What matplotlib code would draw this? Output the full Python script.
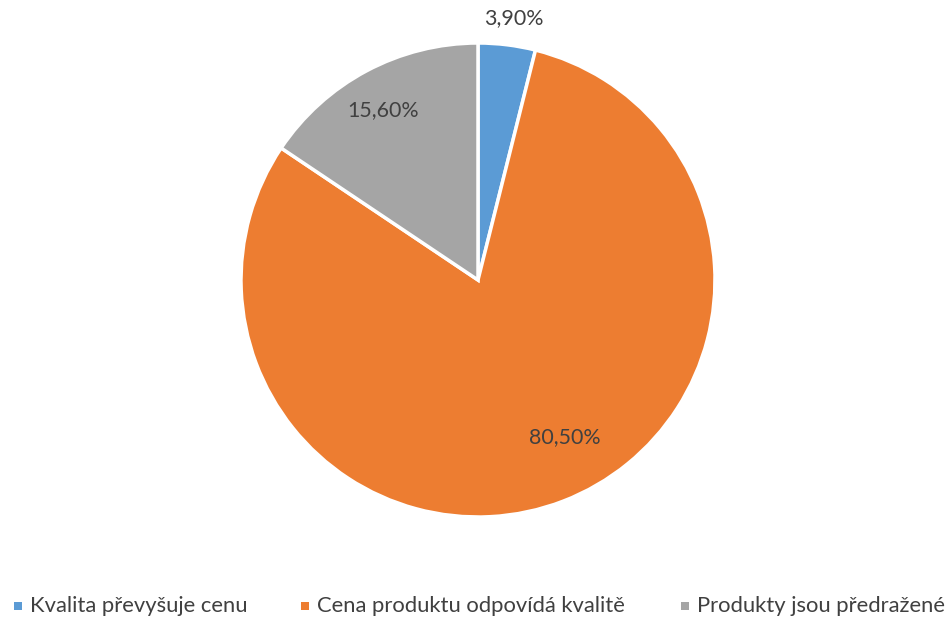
import matplotlib
matplotlib.use("Agg")
import matplotlib.pyplot as plt
from matplotlib.patches import Rectangle

categories = ["Kvalita převyšuje cenu", "Cena produktu odpovídá kvalitě", "Produkty jsou předražené"]
values = [3.9, 80.5, 15.6]
labels = ["3,90%", "80,50%", "15,60%"]
colors = ["#5B9BD5", "#ED7D31", "#A5A5A5"]

plt.rcParams["font.family"] = ["Lato", "DejaVu Sans"]

W, H = 952, 619
fig = plt.figure(figsize=(W / 100, H / 100), dpi=100)

# pie placement (pixels)
cx, cy, r = 478, 280, 237
ax = fig.add_axes([(cx - r) / W, (H - cy - r) / H, 2 * r / W, 2 * r / H])
ax.pie(values, colors=colors, startangle=90, counterclock=False,
       wedgeprops=dict(edgecolor="white", linewidth=2.5))
ax.set_xlim(-1, 1)
ax.set_ylim(-1, 1)
ax.set_aspect("equal")
ax.axis("off")

# data label positions (in pie radius units)
label_pos = [(0.152, 1.105), (0.367, -0.662), (-0.40, 0.717)]
for txt, (x, y) in zip(labels, label_pos):
    ax.text(x, y, txt, ha="center", va="center", fontsize=15.4, color="#404040",
            clip_on=False)

# legend
leg_x = [14, 301, 681]
leg_y = 606
for name, col, x in zip(categories, colors, leg_x):
    fig.patches.append(Rectangle((x / W, (H - leg_y - 4) / H), 8 / W, 8 / H,
                                 transform=fig.transFigure, facecolor=col,
                                 edgecolor="none"))
    fig.text((x + 16) / W, (H - leg_y) / H, name, ha="left", va="center",
             fontsize=15.8, color="#404040")

fig.savefig("out.png", dpi=100)
